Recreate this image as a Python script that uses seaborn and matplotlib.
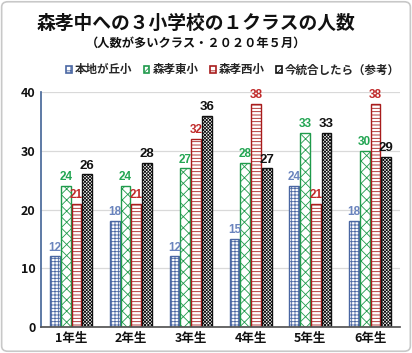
import pandas as pd
import matplotlib.pyplot as plt
import seaborn as sns
from matplotlib.patches import Patch, FancyBboxPatch

grades = ["1年生", "2年生", "3年生", "4年生", "5年生", "6年生"]
schools = ["本地が丘小", "森孝東小", "森孝西小", "今統合したら（参考）"]
hongaoka = [12, 18, 12, 15, 24, 18]
higashi = [24, 24, 27, 28, 33, 30]
nishi = [21, 21, 32, 38, 21, 38]
merged = [26, 28, 36, 27, 33, 29]

edge_colors = ["#4a67a3", "#1f9a4b", "#a81c1c", "#111111"]
label_colors = ["#6a84bd", "#22a552", "#c02a2a", "#111111"]
hatches = ["+++++", "xxx", "-----", "xxxxxxxxxx"]

df = pd.DataFrame({
    "学年": grades * 4,
    "学校": [s for s in schools for _ in grades],
    "人数": hongaoka + higashi + nishi + merged,
})

sns.set_theme(style="white")
plt.rcParams["font.family"] = ["Noto Sans CJK JP", "DejaVu Sans"]
plt.rcParams["hatch.linewidth"] = 0.6

fig = plt.figure(figsize=(4.12, 3.53), dpi=100)
ax = fig.add_axes([0.1, 0.074, 0.871, 0.665])

sns.barplot(data=df, x="学年", y="人数", hue="学校", hue_order=schools,
            palette=["white"] * 4, width=0.72, gap=0.1, legend=False, ax=ax)

for i, cont in enumerate(ax.containers):
    for bar in cont:
        bar.set_facecolor("white")
        bar.set_edgecolor(edge_colors[i])
        bar.set_hatch(hatches[i])
        bar.set_linewidth(1.0)
    fs = 9.5 if i == 3 else 8.5
    ax.bar_label(cont, padding=2, color=label_colors[i], fontsize=fs,
                 fontweight="bold", family=["Liberation Sans", "DejaVu Sans"])

ax.set_ylim(0, 40)
ax.set_xlim(-0.5, 5.5)
ax.set_yticks([0, 10, 20, 30, 40])
ax.yaxis.grid(True, color="#d9d9d9", linewidth=0.9)
ax.set_axisbelow(True)
ax.set_xlabel("")
ax.set_ylabel("")
for s in ["top", "right"]:
    ax.spines[s].set_visible(False)
ax.spines["left"].set_color("#4a6a9a")
ax.spines["bottom"].set_color("#555555")
ax.tick_params(axis="both", length=0, pad=4)
for t in ax.get_yticklabels():
    t.set_fontweight("bold")
    t.set_fontsize(9)
    t.set_color("#111111")
for t in ax.get_xticklabels():
    t.set_fontweight("bold")
    t.set_fontsize(9)
    t.set_color("#111111")

fig.text(0.475, 0.935, "森孝中への３小学校の１クラスの人数", ha="center", va="center",
         fontsize=13.5, fontweight="bold", color="#111111")
fig.text(0.475, 0.878, "（人数が多いクラス・２０２０年５月）", ha="center", va="center",
         fontsize=8.8, fontweight="bold", color="#111111")

handles = [Patch(facecolor="white", edgecolor=edge_colors[i], hatch=hatches[i][:2],
                 linewidth=1.2) for i in range(4)]
fig.legend(handles, schools, loc="center", bbox_to_anchor=(0.565, 0.802), ncol=4,
           frameon=False, prop={"weight": "bold", "size": 8.3},
           handlelength=0.5, handleheight=0.5, handletextpad=0.25, columnspacing=1.0)

fig.patches.append(FancyBboxPatch((0.004, 0.005), 0.992, 0.99, boxstyle="round,pad=0,rounding_size=0.015",
                                  transform=fig.transFigure, facecolor="none",
                                  edgecolor="#c8c8c8", linewidth=1.2))

fig.savefig("out.png", dpi=100)
